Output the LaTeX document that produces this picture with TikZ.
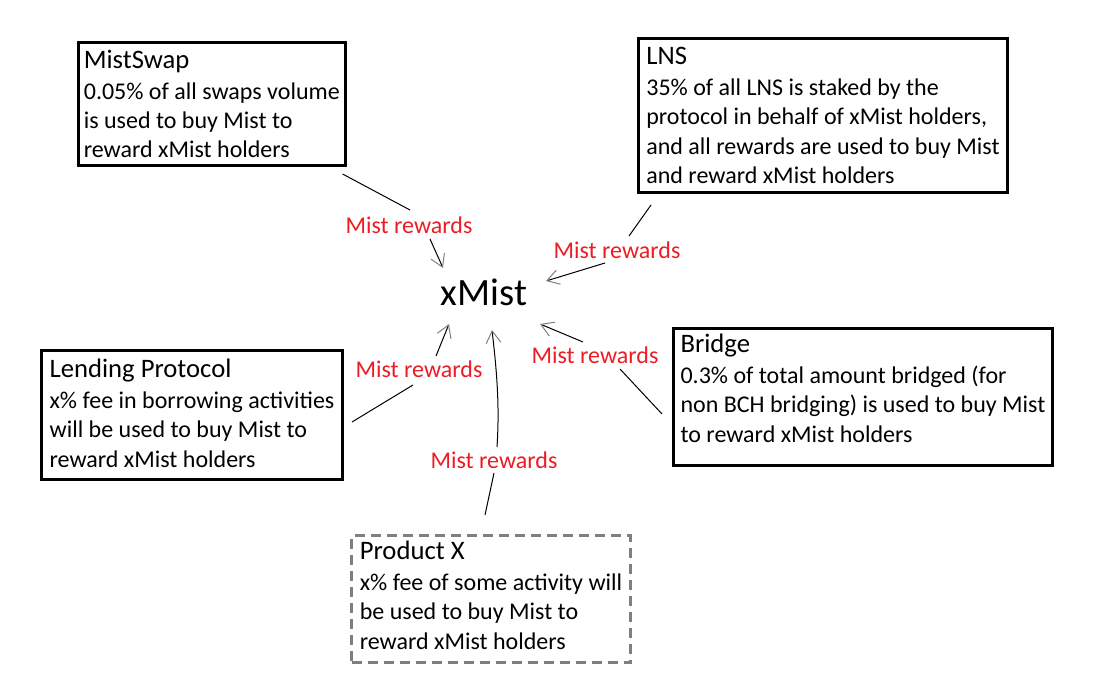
\documentclass[tikz,border=0pt]{standalone}
\usepackage{fontspec}
\setmainfont{Carlito}
\usetikzlibrary{arrows.meta,positioning}
\definecolor{ink}{HTML}{000000}
\definecolor{paintred}{HTML}{ED1C24}
\definecolor{paintgray}{HTML}{7F7F7F}
\newcommand{\head}[1]{{\fontsize{20pt}{24pt}\selectfont #1}\\[1.25pt]}
\tikzset{
  every node/.style={text=ink},
  box/.style={draw=ink,line width=2.25pt,anchor=north west,align=left,inner xsep=4pt,
    font=\fontsize{18pt}{22pt}\selectfont},
  ghostbox/.style={box,draw=paintgray,dash pattern=on 7.5pt off 4.5pt},
  rw/.style={anchor=base,text=paintred,inner sep=2pt,font=\fontsize{18pt}{22pt}\selectfont},
  link/.style={draw=ink,line width=0.75pt},
  feed/.style={link,-{Straight Barb[length=9pt,width=11pt,color=paintgray]}},
}

\begin{document}
\begin{tikzpicture}[x=0.75pt,y=-0.75pt]
\useasboundingbox (0,0) rectangle (1096,689);

\node[box,minimum width=199.5pt,minimum height=92.25pt] (swap) at (77,41)
  {\head{MistSwap}0.05\% of all swaps volume\\is used to buy Mist to\\reward xMist holders};
\node[box,minimum width=276.75pt,minimum height=115.5pt] (lns) at (637,37)
  {\head{LNS}35\% of all LNS is staked by the\\protocol in behalf of xMist holders,\\and all rewards are used to buy Mist\\and reward xMist holders};
\node[box,minimum width=225.75pt,minimum height=96.75pt] (lend) at (40,349)
  {\head{Lending Protocol}x\% fee in borrowing activities\\will be used to buy Mist to\\reward xMist holders\rule[-3pt]{0pt}{0pt}};
\node[box,minimum width=284.25pt,minimum height=102.75pt] (bridge) at (672,327)
  {\head{Bridge}0.3\% of total amount bridged (for\\non BCH bridging) is used to buy Mist\\to reward xMist holders\rule[-13.5pt]{0pt}{0pt}};
\node[ghostbox,minimum width=209.25pt,minimum height=95.25pt] (prodx) at (350,534)
  {\head{Product X}x\% fee of some activity will\\be used to buy Mist to\\reward xMist holders\rule[-6pt]{0pt}{0pt}};

\node[anchor=base,inner sep=0pt,font=\fontsize{29pt}{34pt}\selectfont] (xmist) at (484,305) {xMist};

\node[rw] (rwswap) at (409,233) {Mist rewards};
\node[rw] (rwlns) at (617,258) {Mist rewards};
\node[rw] (rwlend) at (419,377) {Mist rewards};
\node[rw] (rwbridge) at (595,363) {Mist rewards};
\node[rw] (rwprodx) at (494,468) {Mist rewards};

\draw[link] ([shift={(-4,7)}]swap.south east) -- ([shift={(1,-23)}]rwswap.base);
\draw[feed] ([shift={(21,6)}]rwswap.base) -- ([shift={(-41,-37)}]xmist.base);
\draw[link] ([shift={(14,11)}]lns.south west) -- ([shift={(12,-22)}]rwlns.base);
\draw[feed] ([shift={(-12,5)}]rwlns.base) -- ([shift={(62,-24)}]xmist.base);
\draw[link] ([shift={(8,7)}]lend.east) -- ([shift={(-6,8)}]rwlend.base);
\draw[feed] ([shift={(17,-21)}]rwlend.base) -- ([shift={(-35,19)}]xmist.base);
\draw[link] ([shift={(-10,17)}]bridge.west) -- ([shift={(25,6)}]rwbridge.base);
\draw[feed] ([shift={(-12,-21)}]rwbridge.base) -- ([shift={(56,19)}]xmist.base);
\draw[link] ([shift={(-6,-19)}]prodx.north) -- ([shift={(0,5)}]rwprodx.base);
\draw[feed] ([shift={(3,-21)}]rwprodx.base) .. controls +(3,-45) and +(4,35) .. ([shift={(8,25)}]xmist.base);

\end{tikzpicture}
\end{document}
